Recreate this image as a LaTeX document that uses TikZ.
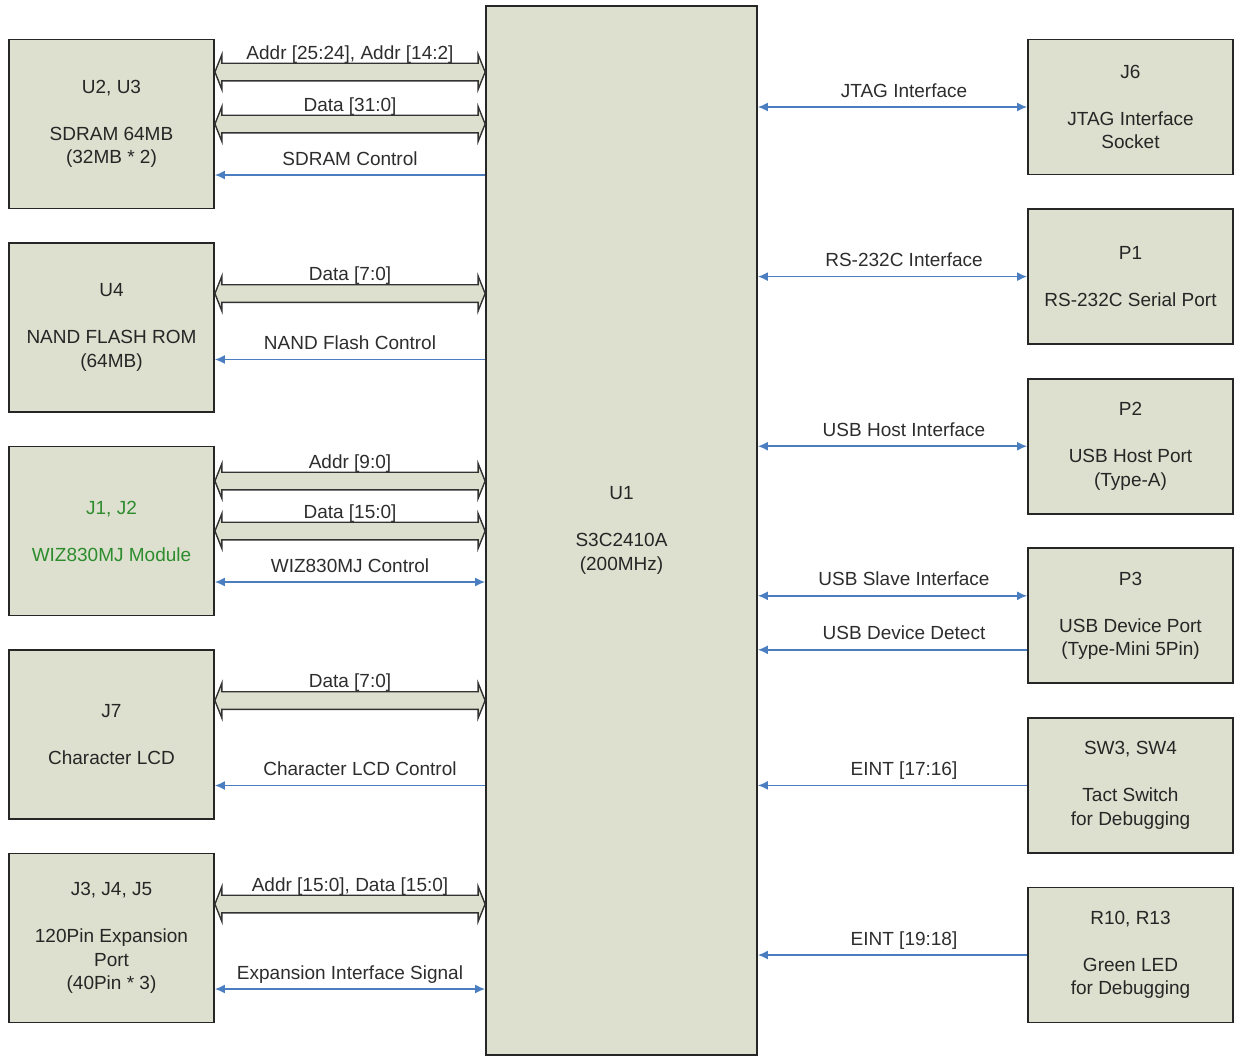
\documentclass[tikz,border=0pt]{standalone}
\usepackage{fontspec}
\setmainfont{Liberation Sans}
\usetikzlibrary{arrows.meta,calc}
\definecolor{boxfill}{RGB}{221,224,206}
\definecolor{sigblue}{RGB}{74,126,193}
\definecolor{modgreen}{RGB}{45,140,45}
\definecolor{lbltext}{RGB}{45,45,45}

\begin{document}
\begin{tikzpicture}[x=0.5pt,y=-0.5pt,>={Latex[length=5pt,width=4.5pt]},font=\fontsize{9.5}{11.75}\selectfont,
    block/.style={draw=black!85,line width=0.9pt,fill=boxfill,align=center,text=black!85,inner sep=0pt},
    left block/.style={block,minimum width=102.5pt,minimum height=84.5pt,node distance=101.75pt},
    right block/.style={block,minimum width=102.5pt,minimum height=67.5pt,node distance=84.8pt},
    signal/.style={draw=sigblue,line width=0.75pt},
    bus/.style={draw=black!80,line width=0.7pt,fill=boxfill,line join=miter,
        to path={let \p1=(\tikztostart),\p2=(\tikztotarget) in
        (\x2-3.5pt,\y2+4.4pt) -- (\x2-3.5pt,\y2+8.75pt) -- (\x2,\y2) -- (\x2-3.5pt,\y2-8.75pt) -- (\x2-3.5pt,\y2-4.4pt)
        -- (\x1+3.5pt,\y1-4.4pt) -- (\x1+3.5pt,\y1-8.75pt) -- (\x1,\y1) -- (\x1+3.5pt,\y1+8.75pt) -- (\x1+3.5pt,\y1+4.4pt)
        -- cycle \tikztonodes}},
    sig label/.style={midway,above,inner sep=3.3pt,text=lbltext,text height=1.5ex,text depth=.25ex},
    right label/.style={sig label,xshift=5.75pt},
    bus label/.style={midway,above,inner sep=0.2pt,text=lbltext,text height=1.5ex,text depth=.25ex}]
                \useasboundingbox (0,0) rectangle (1234,1057);

                \node[block,minimum width=135.5pt,minimum height=524.5pt] (u1) at (621.5,530.5) {U1\\[11.75pt]S3C2410A\\(200MHz)};

                \node[left block] (u23) at (111.5,124) {U2, U3\\[11.75pt]SDRAM 64MB\\(32MB * 2)};
                \node[left block] (u4) [below of=u23] {U4\\[11.75pt]NAND FLASH ROM\\(64MB)};
                \node[left block,text=modgreen] (j12) [below of=u4] {J1, J2\\[11.75pt]WIZ830MJ Module};
                \node[left block] (j7) [below of=j12] {J7\\[11.75pt]Character LCD};
                \node[left block] (j345) [below of=j7] {J3, J4, J5\\[11.75pt]120Pin Expansion\\Port\\(40Pin * 3)};

                \node[right block] (j6) at (1130.5,107) {J6\\[11.75pt]JTAG Interface\\Socket};
                \node[right block] (p1) [below of=j6] {P1\\[11.75pt]RS-232C Serial Port};
                \node[right block] (p2) [below of=p1] {P2\\[11.75pt]USB Host Port\\(Type-A)};
                \node[right block] (p3) [below of=p2] {P3\\[11.75pt]USB Device Port\\(Type-Mini 5Pin)};
                \node[right block] (sw) [below of=p3] {SW3, SW4\\[11.75pt]Tact Switch\\for Debugging};
                \node[right block] (led) [below of=sw] {R10, R13\\[11.75pt]Green LED\\for Debugging};

                % buses to the memories and modules
                \path
                    ([yshift=26pt]u23.east) edge[bus] node[bus label] {Addr [25:24], Addr [14:2]} ([yshift=26pt]u23.east -| u1.west)
                    (u23.east) edge[bus] node[bus label] {Data [31:0]} (u23.east -| u1.west)
                    ([yshift=17pt]u4.east) edge[bus] node[bus label] {Data [7:0]} ([yshift=17pt]u4.east -| u1.west)
                    ([yshift=25pt]j12.east) edge[bus] node[bus label] {Addr [9:0]} ([yshift=25pt]j12.east -| u1.west)
                    (j12.east) edge[bus] node[bus label] {Data [15:0]} (j12.east -| u1.west)
                    ([yshift=17pt]j7.east) edge[bus] node[bus label] {Data [7:0]} ([yshift=17pt]j7.east -| u1.west)
                    ([yshift=17pt]j345.east) edge[bus] node[bus label] {Addr [15:0], Data [15:0]} ([yshift=17pt]j345.east -| u1.west)
                    ;
                % control lines
                \path
                    ([yshift=-25.5pt]u23.east) edge[signal,<-] node[sig label] {SDRAM Control} ([yshift=-25.5pt]u23.east -| u1.west)
                    ([yshift=-16pt]u4.east) edge[signal,<-] node[sig label] {NAND Flash Control} ([yshift=-16pt]u4.east -| u1.west)
                    ([yshift=-25.5pt]j12.east) edge[signal,<->] node[sig label] {WIZ830MJ Control} ([yshift=-25.5pt]j12.east -| u1.west)
                    ([yshift=-25.5pt]j7.east) edge[signal,<-] node[sig label,xshift=5pt] {Character LCD Control} ([yshift=-25.5pt]j7.east -| u1.west)
                    ([yshift=-25.5pt]j345.east) edge[signal,<->] node[sig label] {Expansion Interface Signal} ([yshift=-25.5pt]j345.east -| u1.west)
                    (u1.east |- j6.west) edge[signal,<->] node[right label] {JTAG Interface} (j6.west)
                    (u1.east |- p1.west) edge[signal,<->] node[right label] {RS-232C Interface} (p1.west)
                    (u1.east |- p2.west) edge[signal,<->] node[right label] {USB Host Interface} (p2.west)
                    ([yshift=10pt]u1.east |- p3.west) edge[signal,<->] node[right label] {USB Slave Interface} ([yshift=10pt]p3.west)
                    ([yshift=-17pt]u1.east |- p3.west) edge[signal,<-] node[right label] {USB Device Detect} ([yshift=-17pt]p3.west)
                    (u1.east |- sw.west) edge[signal,<-] node[right label] {EINT [17:16]} (sw.west)
                    (u1.east |- led.west) edge[signal,<-] node[right label] {EINT [19:18]} (led.west)
                    ;
            \end{tikzpicture}
\end{document}
